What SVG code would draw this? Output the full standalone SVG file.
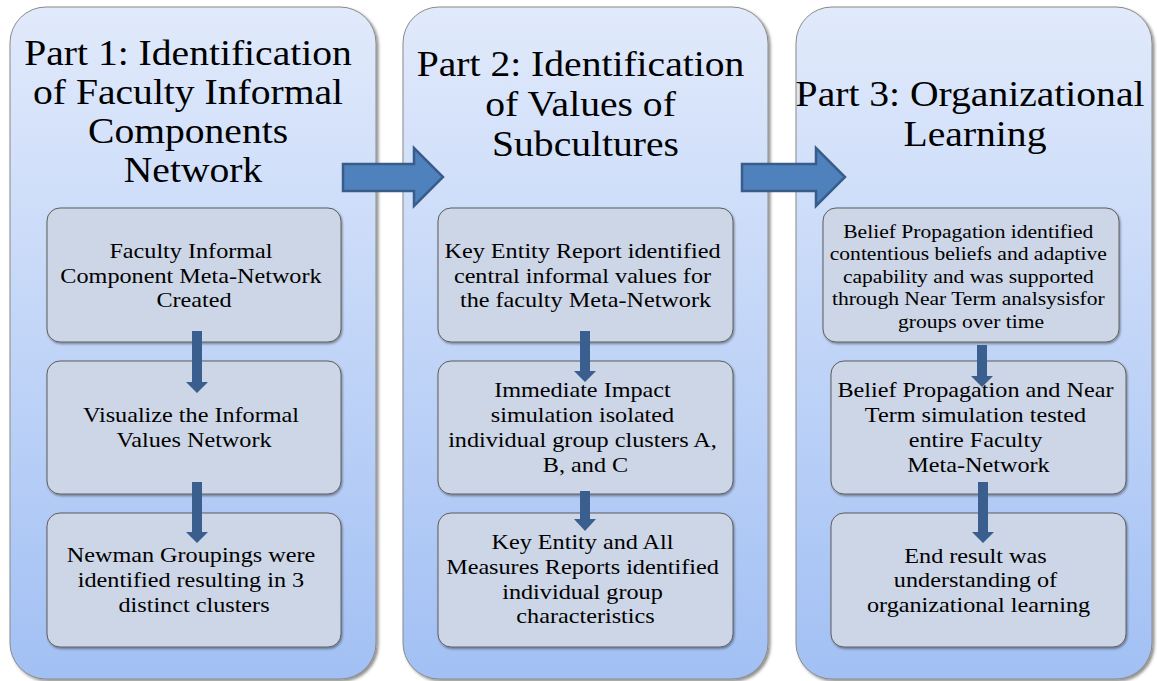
<svg xmlns="http://www.w3.org/2000/svg" width="1157" height="681" viewBox="0 0 1157 681">
  <defs>
    <linearGradient id="panelFill" x1="0" y1="0" x2="0" y2="1">
      <stop offset="0" stop-color="#E1EAFB"/>
      <stop offset="1" stop-color="#A2C0F4"/>
    </linearGradient>
    <filter id="panelShadow" x="-5%" y="-5%" width="115%" height="115%">
      <feDropShadow dx="2" dy="2" stdDeviation="1.6" flood-color="#000" flood-opacity="0.45"/>
    </filter>
    <filter id="boxShadow" x="-5%" y="-5%" width="115%" height="120%">
      <feDropShadow dx="1" dy="1.5" stdDeviation="1" flood-color="#000" flood-opacity="0.4"/>
    </filter>
    <style>
      .panel { fill: url(#panelFill); stroke: #8A8A8A; stroke-width: 1; filter: url(#panelShadow); }
      .box { fill: #CDD6E6; stroke: #5E5E5E; stroke-width: 1; filter: url(#boxShadow); }
      .title { font-size: 36px; fill: #000; text-anchor: middle; }
      .label { font-size: 22px; fill: #000; text-anchor: middle; }
      .small { font-size: 19.6px; }
      .flow { fill: #4F81BD; stroke: #385D8A; stroke-width: 2.5; stroke-linejoin: miter; }
      .step { fill: #3A5F8E; }
    </style>
  </defs>

  <g font-family="'Liberation Serif', 'Times New Roman', Times, serif">
  <!-- Part panels -->
  <g id="part1">
    <rect class="panel" x="10" y="7" width="366" height="672" rx="36"/>
    <text class="title" transform="translate(193 0) scale(1.1 1)">
      <tspan x="0" y="65">Part 1: Identification</tspan>
      <tspan x="0" y="104">of Faculty Informal</tspan>
      <tspan x="0" y="143">Components</tspan>
      <tspan x="0" y="182">Network</tspan>
    </text>
  </g>
  <g id="part2">
    <rect class="panel" x="403" y="7" width="365" height="672" rx="36"/>
    <text class="title" transform="translate(585.5 0) scale(1.1 1)">
      <tspan x="0" y="76">Part 2: Identification</tspan>
      <tspan x="0" y="116">of Values of</tspan>
      <tspan x="0" y="156">Subcultures</tspan>
    </text>
  </g>
  <g id="part3">
    <rect class="panel" x="796" y="7" width="356" height="672" rx="36"/>
    <text class="title" transform="translate(975 0) scale(1.1 1)">
      <tspan x="0" y="106">Part 3: Organizational</tspan>
      <tspan x="0" y="146">Learning</tspan>
    </text>
  </g>

  <!-- Part 1 steps -->
  <g id="p1-meta-network">
    <rect class="box" x="47" y="208" width="294" height="134" rx="13"/>
    <text class="label" transform="translate(194 0) scale(1.1 1)">
      <tspan x="0" y="258">Faculty Informal</tspan>
      <tspan x="0" y="283">Component Meta-Network</tspan>
      <tspan x="0" y="307">Created</tspan>
    </text>
  </g>
  <g id="p1-visualize">
    <rect class="box" x="47" y="361" width="294" height="133" rx="13"/>
    <text class="label" transform="translate(194 0) scale(1.1 1)">
      <tspan x="0" y="422">Visualize the Informal</tspan>
      <tspan x="0" y="447">Values Network</tspan>
    </text>
  </g>
  <g id="p1-newman">
    <rect class="box" x="47" y="513" width="294" height="134" rx="13"/>
    <text class="label" transform="translate(194 0) scale(1.1 1)">
      <tspan x="0" y="562">Newman Groupings were</tspan>
      <tspan x="0" y="587">identified resulting in 3</tspan>
      <tspan x="0" y="612">distinct clusters</tspan>
    </text>
  </g>

  <!-- Part 2 steps -->
  <g id="p2-key-entity">
    <rect class="box" x="438" y="208" width="295" height="134" rx="13"/>
    <text class="label" transform="translate(585.5 0) scale(1.1 1)">
      <tspan x="0" y="258">Key Entity Report identified</tspan>
      <tspan x="0" y="283">central informal values for</tspan>
      <tspan x="0" y="307">the faculty Meta-Network</tspan>
    </text>
  </g>
  <g id="p2-immediate-impact">
    <rect class="box" x="438" y="361" width="295" height="133" rx="13"/>
    <text class="label" transform="translate(585.5 0) scale(1.1 1)">
      <tspan x="0" y="397">Immediate Impact</tspan>
      <tspan x="0" y="422">simulation isolated</tspan>
      <tspan x="0" y="447">individual group clusters A,</tspan>
      <tspan x="0" y="472">B, and C</tspan>
    </text>
  </g>
  <g id="p2-all-measures">
    <rect class="box" x="438" y="513" width="295" height="134" rx="13"/>
    <text class="label" transform="translate(585.5 0) scale(1.1 1)">
      <tspan x="0" y="549">Key Entity and All</tspan>
      <tspan x="0" y="574">Measures Reports identified</tspan>
      <tspan x="0" y="599">individual group</tspan>
      <tspan x="0" y="623">characteristics</tspan>
    </text>
  </g>

  <!-- Part 3 steps -->
  <g id="p3-belief-propagation">
    <rect class="box" x="823" y="208" width="296" height="134" rx="13"/>
    <text class="label small" transform="translate(971 0) scale(1.1 1)">
      <tspan x="0" y="238">Belief Propagation identified</tspan>
      <tspan x="0" y="260.5">contentious beliefs and adaptive</tspan>
      <tspan x="0" y="283">capability and was supported</tspan>
      <tspan x="0" y="305.5">through Near Term analsysisfor</tspan>
      <tspan x="0" y="328">groups over time</tspan>
    </text>
  </g>
  <g id="p3-near-term">
    <rect class="box" x="831" y="361" width="295" height="133" rx="13"/>
    <text class="label" transform="translate(978.5 0) scale(1.1 1)">
      <tspan x="0" y="397">Belief Propagation and Near</tspan>
      <tspan x="0" y="422">Term simulation tested</tspan>
      <tspan x="0" y="447">entire Faculty</tspan>
      <tspan x="0" y="472">Meta-Network</tspan>
    </text>
  </g>
  <g id="p3-end-result">
    <rect class="box" x="831" y="513" width="295" height="134" rx="13"/>
    <text class="label" transform="translate(978.5 0) scale(1.1 1)">
      <tspan x="0" y="563">End result was</tspan>
      <tspan x="0" y="587">understanding of</tspan>
      <tspan x="0" y="612">organizational learning</tspan>
    </text>
  </g>
  </g>

  <!-- Connectors: block arrows between parts and down arrows between steps -->
  <g id="connectors">
    <polygon class="flow" points="343,164 414,164 414,148 443,177 414,206 414,191 343,191"/>
    <polygon class="flow" points="742,164 816,164 816,148 845,177 816,206 816,191 742,191"/>

    <polygon class="step" points="192,331 202,331 202,382 208,382 197,393 186,382 192,382"/>
    <polygon class="step" points="192,482 202,482 202,532 208,532 197,543 186,532 192,532"/>

    <polygon class="step" points="580,331 590,331 590,371 596,371 585,382 574,371 580,371"/>
    <polygon class="step" points="580,491 590,491 590,519 596,519 585,531 574,519 580,519"/>

    <polygon class="step" points="977,345 987,345 987,376 993,376 982,387 971,376 977,376"/>
    <polygon class="step" points="978,482 988,482 988,532 994,532 983,543 972,532 978,532"/>
  </g>
</svg>
